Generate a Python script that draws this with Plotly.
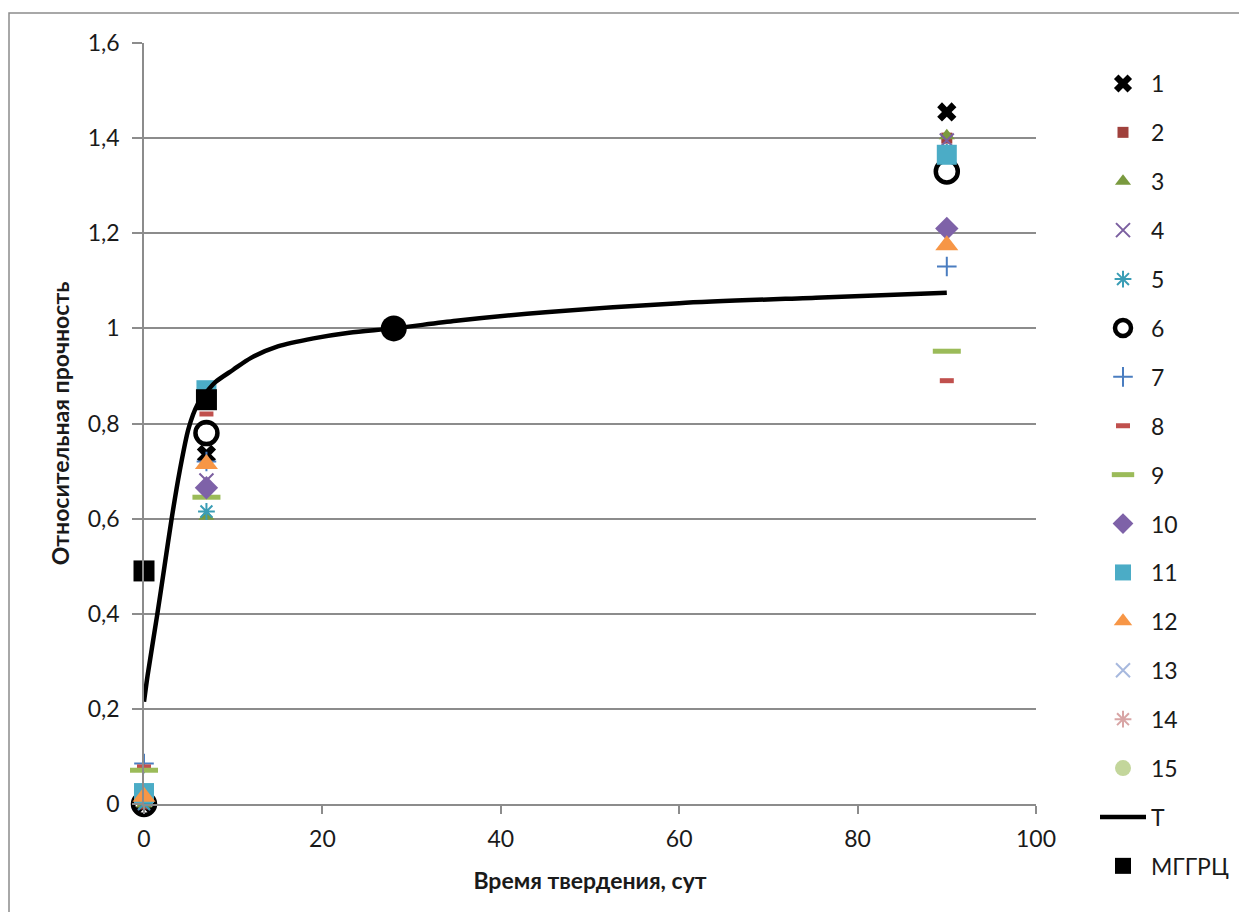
import plotly.graph_objects as go

# ---- data ----
days = [0, 7, 90]
s1 = [0.0, 0.735, 1.455]
s2 = [0.0, 0.84, 1.40]
s3 = [0.0, 0.605, 1.405]
s4 = [0.0, 0.68, 1.395]
s5 = [0.0, 0.615, 1.37]
s6 = [0.0, 0.78, 1.33]
s7 = [0.085, 0.72, 1.13]
s8 = [0.078, 0.82, 0.89]
s9 = [0.071, 0.645, 0.952]
s10 = [None, 0.665, 1.21]
s11 = [0.023, 0.87, 1.365]
s12 = [0.015, 0.715, 1.175]
s13 = [None, None, None]
s14 = [None, None, None]
s15 = [None, None, None]

t_days = [0.0, 0.4, 1.5, 2.3, 3.1, 4.0, 5.0, 6.0, 7.0, 8.0, 10.0, 12.0, 15.0, 19.0, 23.0, 28.0, 35.0, 45.0, 60.0, 76.0, 90.0]
t_vals = [0.215, 0.27, 0.40, 0.50, 0.60, 0.70, 0.79, 0.84, 0.866, 0.887, 0.913, 0.938, 0.962, 0.979, 0.991, 1.0, 1.016, 1.034, 1.053, 1.065, 1.075]

ref_day = [28]
ref_val = [1.0]

mggrc_days = [0, 7]
mggrc_vals = [0.49, 0.85]

names = ["1", "2", "3", "4", "5", "6", "7", "8", "9", "10", "11", "12", "13", "14", "15"]
series = [s1, s2, s3, s4, s5, s6, s7, s8, s9, s10, s11, s12, s13, s14, s15]

# ---- styles ----
styles = [
    dict(symbol="x", color="black", size=17, line=dict(width=0)),
    dict(symbol="square", color="#A0413C", size=11, line=dict(width=0)),
    dict(symbol="triangle-up", color="#7A9A3F", size=14, line=dict(width=0)),
    dict(symbol="x-thin-open", color="#7B5FA0", size=14, line=dict(width=2, color="#7B5FA0")),
    dict(symbol="asterisk-open", color="#3A9DB5", size=14, line=dict(width=2, color="#3A9DB5")),
    dict(symbol="circle-open", color="black", size=22, line=dict(width=4.5, color="black")),
    dict(symbol="cross-thin-open", color="#4A7DC0", size=14, line=dict(width=2, color="#4A7DC0")),
    dict(symbol="line-ew-open", color="#C0504D", size=10, line=dict(width=5, color="#C0504D")),
    dict(symbol="line-ew-open", color="#9BBB59", size=20, line=dict(width=5, color="#9BBB59")),
    dict(symbol="diamond", color="#7E62A8", size=18, line=dict(width=0)),
    dict(symbol="square", color="#4BACC6", size=20, line=dict(width=0)),
    dict(symbol="triangle-up", color="#F79646", size=20, line=dict(width=0)),
    dict(symbol="x-thin-open", color="#A7B9DE", size=14, line=dict(width=2, color="#A7B9DE")),
    dict(symbol="asterisk-open", color="#D8A5A5", size=14, line=dict(width=2, color="#D8A5A5")),
    dict(symbol="circle", color="#C3D69B", size=16, line=dict(width=0)),
]

fig = go.Figure()
for i, (nm, vals, st) in enumerate(zip(names, series, styles)):
    fig.add_trace(go.Scatter(
        x=days, y=vals, mode="markers", name=nm, marker=st,
        cliponaxis=False, legendgroup="g%d" % i,
    ))

fig.add_trace(go.Scatter(
    x=t_days, y=t_vals, mode="lines", name="T",
    line=dict(color="black", width=4.5, shape="spline", smoothing=0.8),
    cliponaxis=False, legendgroup="gT",
))
fig.add_trace(go.Scatter(
    x=ref_day, y=ref_val, mode="markers", showlegend=False,
    marker=dict(symbol="circle", color="black", size=26), cliponaxis=False,
))
fig.add_trace(go.Scatter(
    x=mggrc_days, y=mggrc_vals, mode="markers", name="МГГРЦ",
    marker=dict(symbol="square", color="black", size=21), cliponaxis=False,
    legendgroup="gM",
))

# page has an 8px body margin, so figure coords = page coords - 8
OFF = 8
W, H = 1247 - 2 * OFF, 920 - 2 * OFF
L, R, T, B = 144 - OFF, 1036 - OFF, 43 - OFF, 804 - OFF
pw, ph = R - L, B - T

def px2paper_x(p):
    return (p - OFF - L) / pw

def px2paper_y(p):
    return (B - (p - OFF)) / ph

grid = "#8C8C8C"
FS = 23
fig.update_layout(
    width=W, height=H,
    margin=dict(l=L, r=W - R, t=T, b=H - B, autoexpand=False),
    paper_bgcolor="white", plot_bgcolor="white",
    separators=", ",
    font=dict(family="Lato, Open Sans, sans-serif", size=FS, color="#1a1a1a"),
    showlegend=True,
    legend=dict(
        x=px2paper_x(1095), y=px2paper_y(62), xanchor="left", yanchor="top",
        font=dict(size=FS, color="#1a1a1a"), tracegroupgap=16,
        bgcolor="rgba(0,0,0,0)", itemwidth=46, maxheight=900,
    ),
    xaxis=dict(
        range=[0, 100], dtick=20, showgrid=False, zeroline=False,
        showline=True, linecolor=grid, linewidth=1.5,
        ticks="outside", ticklen=8, tickcolor=grid, tickwidth=1.5,
        ticklabelstandoff=6,
        title=dict(text="<b>Время твердения, сут</b>", font=dict(size=FS), standoff=22),
        tickfont=dict(size=FS),
    ),
    yaxis=dict(
        range=[0, 1.6], dtick=0.2, showgrid=True, gridcolor=grid, gridwidth=1.5,
        zeroline=False, showline=True, linecolor=grid, linewidth=1.5,
        ticks="outside", ticklen=10, tickcolor=grid, tickwidth=1.5,
        ticklabelstandoff=8,
        title=dict(text="<b>Относительная прочность</b>", font=dict(size=FS), standoff=12),
        tickfont=dict(size=FS),
    ),
    shapes=[dict(
        type="rect", xref="paper", yref="paper",
        x0=px2paper_x(9), x1=px2paper_x(1270), y0=px2paper_y(950), y1=px2paper_y(13),
        line=dict(color=grid, width=1.5), fillcolor="rgba(0,0,0,0)", layer="below",
    )],
)

fig.write_html("out.html")
